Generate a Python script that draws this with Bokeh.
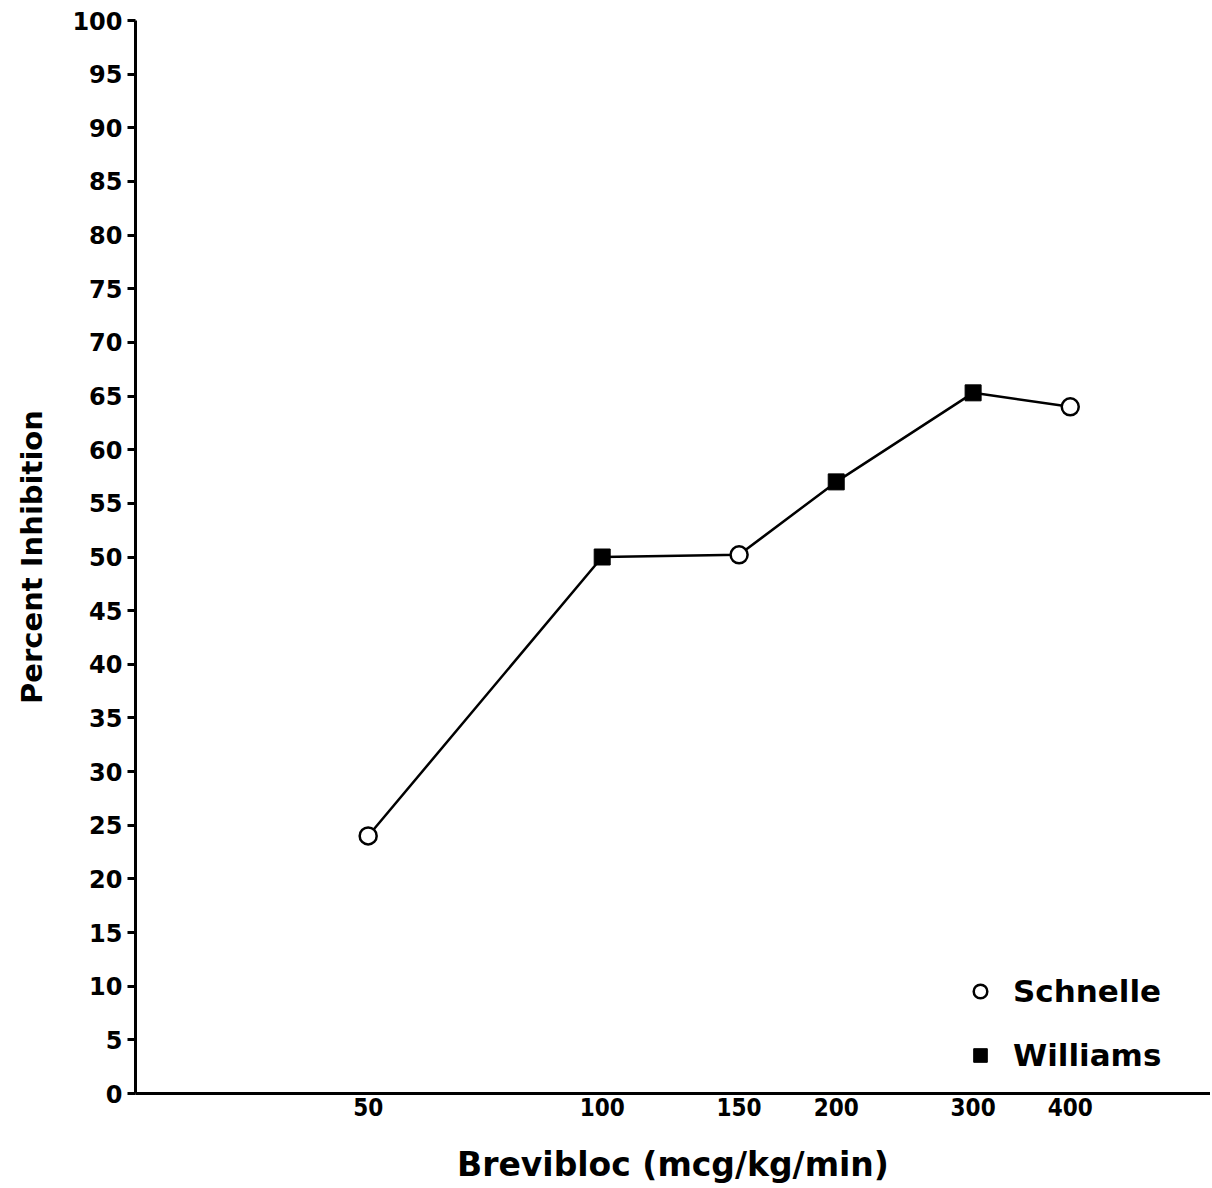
from bokeh.plotting import figure
from bokeh.models import Range1d, FixedTicker, Legend, LegendItem
from bokeh.embed import file_html
from bokeh.resources import INLINE

# data
doses = [50, 100, 150, 200, 300, 400]
inhibition = [24.0, 50.0, 50.2, 57.0, 65.3, 64.0]
schnelle_x = [50, 150, 400]
schnelle_y = [24.0, 50.2, 64.0]
williams_x = [100, 200, 300]
williams_y = [50.0, 57.0, 65.3]
x_ticks = [50, 100, 150, 200, 300, 400]
y_ticks = list(range(0, 101, 5))

FONT = "DejaVu Sans"

p = figure(width=1210, height=1186, x_axis_type="log",
           x_range=Range1d(25.1, 606), y_range=Range1d(0, 100),
           output_backend="svg", toolbar_location=None,
           min_border_left=135, min_border_top=20, min_border_right=0,
           min_border_bottom=93)
p.outline_line_color = None
p.grid.visible = False
p.background_fill_color = "white"

p.line(doses, inhibition, line_color="black", line_width=2.5)
r_s = p.scatter(schnelle_x, schnelle_y, marker="circle", size=17,
                fill_color="white", line_color="black", line_width=2.5)
r_w = p.scatter(williams_x, williams_y, marker="square", size=16,
                fill_color="black", line_color="black", line_width=1)

xa = p.xaxis[0]
xa.ticker = FixedTicker(ticks=x_ticks)
xa.minor_tick_line_color = None
xa.major_tick_out = 0
xa.major_tick_in = 0
xa.axis_line_width = 3
xa.axis_line_color = "black"
xa.major_label_text_font = "DejaVu Sans Condensed"
xa.major_label_text_font_style = "bold"
xa.major_label_text_font_size = "24px"
xa.major_label_text_color = "black"
xa.major_label_standoff = 4
xa.axis_label = "Brevibloc (mcg/kg/min)"
xa.axis_label_text_font = FONT
xa.axis_label_text_font_style = "bold"
xa.axis_label_text_font_size = "33px"
xa.axis_label_text_color = "black"
xa.axis_label_standoff = 26

ya = p.yaxis[0]
ya.ticker = FixedTicker(ticks=y_ticks)
ya.minor_tick_line_color = None
ya.major_tick_out = 8
ya.major_tick_in = 0
ya.major_tick_line_width = 3
ya.axis_line_width = 3
ya.axis_line_color = "black"
ya.major_label_text_font = FONT
ya.major_label_text_font_style = "bold"
ya.major_label_text_font_size = "24px"
ya.major_label_text_color = "black"
ya.major_label_standoff = 5
ya.axis_label = "Percent Inhibition"
ya.axis_label_text_font = FONT
ya.axis_label_text_font_style = "bold"
ya.axis_label_text_font_size = "29px"
ya.axis_label_text_color = "black"
ya.axis_label_standoff = 20

legend = Legend(items=[LegendItem(label="Schnelle", renderers=[r_s]),
                       LegendItem(label="Williams", renderers=[r_w])],
                location=(828, 20))
legend.border_line_color = None
legend.background_fill_alpha = 0
legend.label_text_font = FONT
legend.label_text_font_style = "bold"
legend.label_text_font_size = "31px"
legend.label_text_color = "black"
legend.glyph_width = 34
legend.glyph_height = 34
legend.label_height = 34
legend.spacing = 28
legend.label_standoff = 16
p.add_layout(legend, "center")

open("out.html", "w").write(file_html(p, INLINE))
